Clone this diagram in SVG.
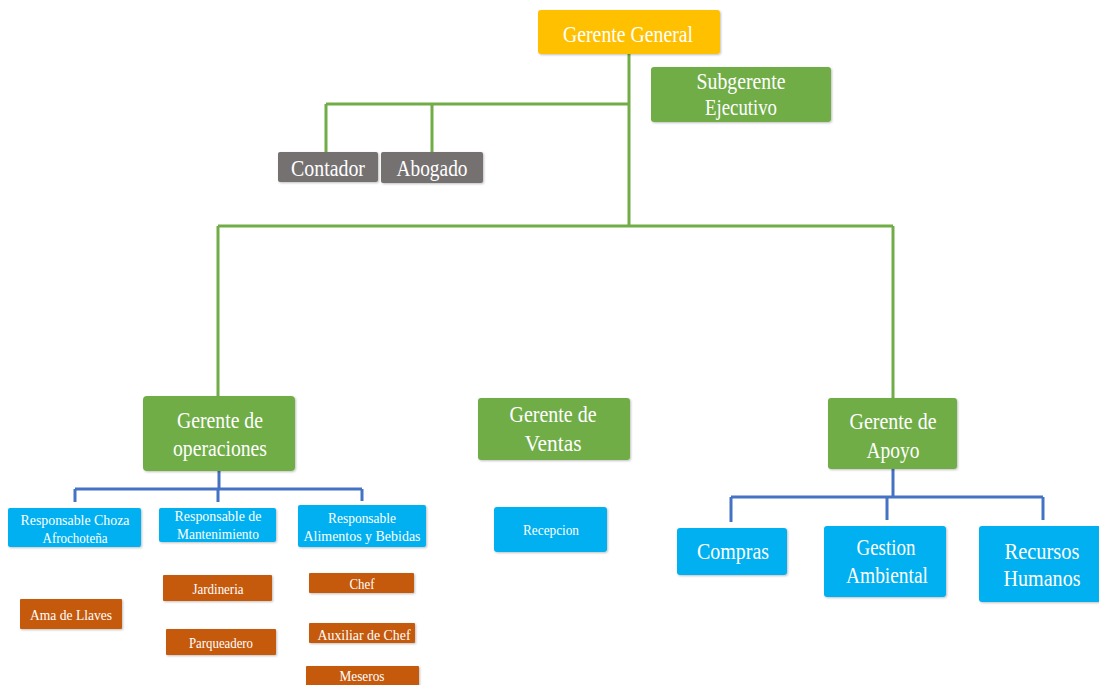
<svg xmlns="http://www.w3.org/2000/svg" width="1099" height="685" viewBox="0 0 1099 685">
<defs>
<filter id="sh" x="-10%" y="-10%" width="130%" height="140%">
<feDropShadow dx="1" dy="1" stdDeviation="1" flood-color="#000" flood-opacity="0.25"/>
</filter>
</defs>
<style>
.box{filter:url(#sh)}
.gold{fill:#FFC000}
.green{fill:#70AD47}
.grey{fill:#767171}
.cyan{fill:#00B0F0}
.orange{fill:#C55A11}
text{fill:#fff;text-anchor:middle}
.l{font-size:24px}
.s{font-size:14px}
.gl{stroke:#70AD47;stroke-width:3;fill:none}
.bl{stroke:#4472C4;stroke-width:3;fill:none}
</style>
<rect width="1099" height="685" fill="#fff"/>
<g id="connectors">
<path class="gl" d="M629 54V226M326 104H629M326 104V152M432 104V152M218 226H893M218 226V397M893 226V398"/>
<path class="bl" d="M219 471V489M75 489H362M75 489V502M218 489V502M362 489V501"/>
<path class="bl" d="M893 469V497M731 497H1043M731 497V522M887 497V520M1043 497V520"/>
</g>
<g font-family="'Liberation Serif', 'DejaVu Serif', serif">
<g id="gerente-general"><rect class="box gold" x="538" y="10" width="182" height="44" rx="3"/><text class="l" x="628" y="42" textLength="130" lengthAdjust="spacingAndGlyphs">Gerente General</text></g>
<g id="subgerente"><rect class="box green" x="651" y="67" width="180" height="55" rx="3"/><text class="l" x="741" y="89" textLength="89" lengthAdjust="spacingAndGlyphs">Subgerente</text><text class="l" x="741" y="115" textLength="72" lengthAdjust="spacingAndGlyphs">Ejecutivo</text></g>
<g id="contador"><rect class="box grey" x="278" y="152" width="100" height="30" rx="2"/><text class="l" x="328" y="176" textLength="74" lengthAdjust="spacingAndGlyphs">Contador</text></g>
<g id="abogado"><rect class="box grey" x="381" y="152" width="102" height="31" rx="2"/><text class="l" x="432" y="176" textLength="71" lengthAdjust="spacingAndGlyphs">Abogado</text></g>
<g id="gerente-operaciones"><rect class="box green" x="143" y="396" width="152" height="75" rx="4"/><text class="l" x="220" y="428" textLength="86" lengthAdjust="spacingAndGlyphs">Gerente de</text><text class="l" x="220" y="456" textLength="94" lengthAdjust="spacingAndGlyphs">operaciones</text></g>
<g id="gerente-ventas"><rect class="box green" x="478" y="398" width="152" height="62" rx="3"/><text class="l" x="553" y="422" textLength="87" lengthAdjust="spacingAndGlyphs">Gerente de</text><text class="l" x="553" y="451" textLength="57" lengthAdjust="spacingAndGlyphs">Ventas</text></g>
<g id="gerente-apoyo"><rect class="box green" x="828" y="398" width="129" height="71" rx="3"/><text class="l" x="893" y="429" textLength="87" lengthAdjust="spacingAndGlyphs">Gerente de</text><text class="l" x="893" y="458" textLength="53" lengthAdjust="spacingAndGlyphs">Apoyo</text></g>
<g id="resp-choza"><rect class="box cyan" x="8" y="508" width="133" height="39" rx="2"/><text class="s" x="75" y="525" textLength="109" lengthAdjust="spacingAndGlyphs">Responsable  Choza</text><text class="s" x="75" y="543" textLength="65" lengthAdjust="spacingAndGlyphs">Afrochoteña</text></g>
<g id="resp-mantenimiento"><rect class="box cyan" x="159" y="508" width="117" height="34" rx="2"/><text class="s" x="218" y="521" textLength="87" lengthAdjust="spacingAndGlyphs">Responsable  de</text><text class="s" x="218" y="539" textLength="82" lengthAdjust="spacingAndGlyphs">Mantenimiento</text></g>
<g id="resp-alimentos"><rect class="box cyan" x="298" y="505" width="128" height="42" rx="2"/><text class="s" x="362" y="523" textLength="68" lengthAdjust="spacingAndGlyphs">Responsable</text><text class="s" x="362" y="541" textLength="117" lengthAdjust="spacingAndGlyphs">Alimentos y Bebidas</text></g>
<g id="recepcion"><rect class="box cyan" x="494" y="507" width="113" height="45" rx="3"/><text class="s" x="551" y="535" textLength="56" lengthAdjust="spacingAndGlyphs">Recepcion</text></g>
<g id="compras"><rect class="box cyan" x="677" y="528" width="110" height="47" rx="3"/><text class="l" x="733" y="559" textLength="72" lengthAdjust="spacingAndGlyphs">Compras</text></g>
<g id="gestion-ambiental"><rect class="box cyan" x="824" y="526" width="122" height="71" rx="3"/><text class="l" x="886" y="555" textLength="59" lengthAdjust="spacingAndGlyphs">Gestion</text><text class="l" x="887" y="583" textLength="82" lengthAdjust="spacingAndGlyphs">Ambiental</text></g>
<g id="recursos-humanos"><rect class="box cyan" x="979" y="526" width="122" height="76" rx="3"/><text class="l" x="1042" y="559" textLength="75" lengthAdjust="spacingAndGlyphs">Recursos</text><text class="l" x="1042" y="586" textLength="77" lengthAdjust="spacingAndGlyphs">Humanos</text></g>
<g id="ama-de-llaves"><rect class="box orange" x="20" y="599" width="102" height="30" rx="1"/><text class="s" x="71" y="620" textLength="82" lengthAdjust="spacingAndGlyphs">Ama de Llaves</text></g>
<g id="jardineria"><rect class="box orange" x="163" y="575" width="109" height="26" rx="1"/><text class="s" x="218" y="594" textLength="51" lengthAdjust="spacingAndGlyphs">Jardineria</text></g>
<g id="parqueadero"><rect class="box orange" x="166" y="629" width="110" height="26" rx="1"/><text class="s" x="221" y="648" textLength="64" lengthAdjust="spacingAndGlyphs">Parqueadero</text></g>
<g id="chef"><rect class="box orange" x="309" y="573" width="105" height="20" rx="1"/><text class="s" x="362" y="589" textLength="25" lengthAdjust="spacingAndGlyphs">Chef</text></g>
<g id="auxiliar-chef"><rect class="box orange" x="309" y="623" width="106" height="20" rx="1"/><text class="s" x="364" y="640" textLength="93" lengthAdjust="spacingAndGlyphs">Auxiliar de Chef</text></g>
<g id="meseros"><rect class="box orange" x="306" y="666" width="113" height="22" rx="1"/><text class="s" x="362" y="681" textLength="45" lengthAdjust="spacingAndGlyphs">Meseros</text></g>
</g>
</svg>
